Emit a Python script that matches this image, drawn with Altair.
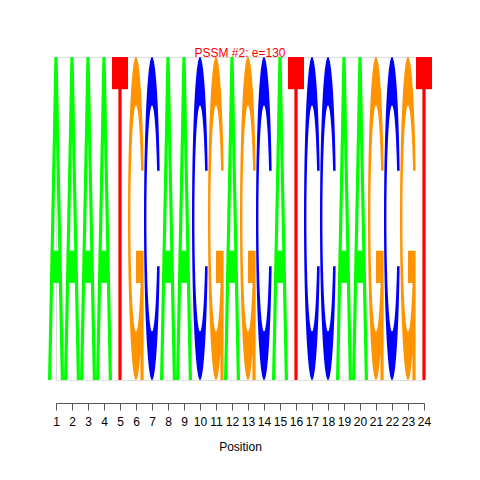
import altair as alt
import numpy as np
import pandas as pd

# ---- data ----
positions = [1, 2, 3, 4, 5, 6, 7, 8, 9, 10, 11, 12,
             13, 14, 15, 16, 17, 18, 19, 20, 21, 22, 23, 24]
letters = ["A", "A", "A", "A", "T", "G", "C", "A", "A", "C", "G", "A",
           "G", "C", "A", "T", "C", "C", "A", "A", "G", "C", "G", "T"]
bits = [2, 2, 2, 2, 2, 2, 2, 2, 2, 2, 2, 2,
        2, 2, 2, 2, 2, 2, 2, 2, 2, 2, 2, 2]
alphabet = ["A", "C", "G", "T"]
letter_colors = ["#00FF00", "#0000FF", "#FF9400", "#FF0000"]
title_text = "PSSM #2: e=130"

# ---- layout ----
PLOT_W, PLOT_H = 368, 323
COL_W = PLOT_W / (len(positions) - 1)
S = PLOT_H / 2.0            # vega custom symbol scale = sqrt(size)/2
SIZE = (2 * S) ** 2


def area(poly):
    x = np.array([p[0] for p in poly]); y = np.array([p[1] for p in poly])
    return 0.5 * np.sum(x * np.roll(y, -1) - np.roll(x, -1) * y)


def orient(poly, ccw=True):
    return poly if (area(poly) > 0) == ccw else poly[::-1]


def to_path(polys):
    parts = []
    for poly in polys:
        pts = [((x - 0.5) * COL_W / S, (0.5 - y) * PLOT_H / S) for x, y in poly]
        s = "M%.4f,%.4f" % pts[0] + "".join("L%.4f,%.4f" % p for p in pts[1:]) + "Z"
        parts.append(s)
    return "".join(parts)


# glyph outlines in a unit box (x right, y up)
def glyph_A():
    outer = [(0, 0), (0.4, 1), (0.6, 1), (1, 0), (0.8, 0), (0.68, 0.3), (0.32, 0.3), (0.2, 0)]
    hole = [(0.36, 0.4), (0.5, 0.75), (0.64, 0.4)]
    return [orient(outer, True), orient(hole, False)]


def ring():
    a1 = np.linspace(0.3 + np.pi / 2, np.pi, 50)
    a2 = np.linspace(np.pi, 1.5 * np.pi, 50)
    a = np.concatenate([a1, a2])
    xl = 0.5 + 0.5 * np.sin(a); yl = 0.5 + 0.5 * np.cos(a)
    xo = np.concatenate([xl, xl[::-1]]); yo = np.concatenate([yl, 1 - yl[::-1]])
    top = yl[:len(a1)].max()
    a_in = np.arccos((top - 0.5) / 0.35)
    ai = np.concatenate([np.linspace(a_in, np.pi, 50), a2])
    xi = 0.5 + 0.35 * np.sin(ai); yi = 0.5 + 0.35 * np.cos(ai)
    xin = np.concatenate([xi, xi[::-1]]); yin = np.concatenate([yi, 1 - yi[::-1]])
    poly = list(zip(xo, yo)) + list(zip(xin[::-1], yin[::-1]))
    r1 = xl[:len(a1)].max()
    return poly, r1


def glyph_C():
    poly, _ = ring()
    return [orient(poly, True)]


def glyph_G():
    poly, r1 = ring()
    h1 = 0.4
    bar = [(r1, h1), (0.5, h1), (0.5, h1 - 0.1), (r1 - 0.2, h1 - 0.1), (r1 - 0.2, 0), (r1, 0)]
    return [orient(poly, True), orient(bar, True)]


def glyph_T():
    poly = [(0, 1), (1, 1), (1, 0.9), (0.6, 0.9), (0.6, 0), (0.4, 0), (0.4, 0.9), (0, 0.9)]
    return [orient(poly, True)]


shapes = [to_path(glyph_A()), to_path(glyph_C()), to_path(glyph_G()), to_path(glyph_T())]

df = pd.DataFrame({"position": positions, "letter": letters, "bits": bits})
df["center"] = df["bits"] / 2.0

FONT = "Liberation Sans"

chart = alt.Chart(df).mark_point(filled=True, opacity=1, strokeWidth=0).encode(
    x=alt.X("position:Q",
            scale=alt.Scale(domain=[positions[0], positions[-1]], nice=False, zero=False),
            axis=alt.Axis(values=positions, format="d", title="Position",
                          grid=False, offset=23, tickSize=7, labelPadding=6,
                          labelFontSize=12, labelFont=FONT, labelColor="#000000",
                          labelOverlap=False, labelFlush=False,
                          domainColor="#555555", tickColor="#555555",
                          titleFont=FONT, titleFontSize=12, titleFontWeight="normal",
                          titleColor="#000000", titleY=47, titleBaseline="alphabetic")),
    y=alt.Y("center:Q", scale=alt.Scale(domain=[0, 2], nice=False), axis=None),
    shape=alt.Shape("letter:N", scale=alt.Scale(domain=alphabet, range=shapes), legend=None),
    color=alt.Color("letter:N", scale=alt.Scale(domain=alphabet, range=letter_colors), legend=None),
    size=alt.value(SIZE),
).properties(
    width=PLOT_W,
    height=PLOT_H,
    padding={"left": 48, "top": 49, "right": 48, "bottom": 92},
    autosize=alt.AutoSizeParams(type="none"),
    title=alt.TitleParams(title_text, color="#FF0000", fontSize=12, fontWeight="normal",
                          font=FONT, anchor="middle", baseline="alphabetic",
                          offset=-12, frame="group"),
).configure_view(stroke=None).configure(background="white")

chart.save("out.html", embed_options={"renderer": "svg", "actions": False})
